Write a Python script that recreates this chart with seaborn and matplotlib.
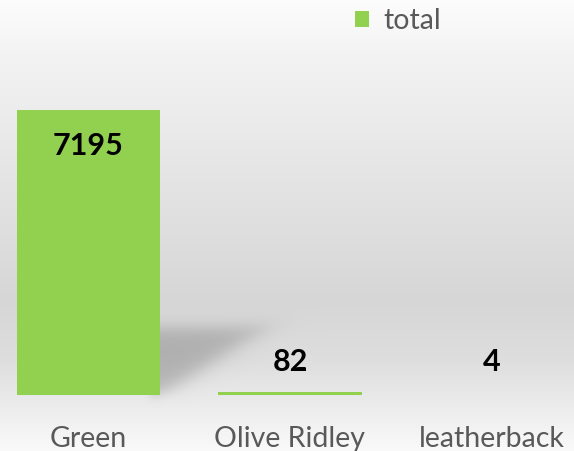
import numpy as np
import pandas as pd
import seaborn as sns
import matplotlib
matplotlib.use("Agg")
import matplotlib.pyplot as plt
from matplotlib.patches import Patch

species = ["Green", "Olive Ridley", "leatherback"]
totals = [7195, 82, 4]
series_name = "total"

bar_green = "#92d050"
text_grey = "#595959"

sns.set_theme(style="white")
plt.rcParams["font.family"] = ["Lato", "DejaVu Sans"]

df = pd.DataFrame({"species": species, "total": totals})

W, H = 574, 451
fig = plt.figure(figsize=(W / 100, H / 100), dpi=100)

# background: vertical grey gradient + soft perspective shadow behind the big bar
bg = fig.add_axes([0, 0, 1, 1])
yy = np.arange(H)
stops_y = [0, 60, 300, 360, 451]
stops_v = [0.99, 0.95, 0.84, 0.87, 0.98]
shade = np.interp(yy, stops_y, stops_v)
img = np.repeat(shade[:, None], W, axis=1)
rgb = np.dstack([img, img, img])

X, Y = np.meshgrid(np.arange(W), np.arange(H))
x_r = 160 + (395 - Y) / 68 * 105
sig = lambda t: 1 / (1 + np.exp(-t))
alpha = sig((Y - 327) / 5) * sig((396 - Y) / 4) * sig((x_r - X) / 10) * sig((X - 150) / 2)
alpha *= 0.42
rgb = rgb * (1 - alpha[..., None]) + 0.45 * alpha[..., None]
bg.imshow(np.clip(rgb, 0, 1), extent=[0, W, H, 0], aspect="auto", interpolation="bilinear")
bg.set_xlim(0, W)
bg.set_ylim(H, 0)
bg.axis("off")

ax = fig.add_axes([0, 0, 1, 1])
ax.patch.set_alpha(0)
sns.barplot(data=df, x="species", y="total", color=bar_green, width=0.71,
            saturation=1, linewidth=0, ax=ax)

# map data so bars land where they are in the original
px = 201.5
xmin = -88.5 / px
ax.set_xlim(xmin, xmin + W / px)
scale = 7195 / 285
ymin = -56 * scale
ax.set_ylim(ymin, ymin + H * scale)
ax.axis("off")

for i, v in enumerate(totals):
    if i == 0:
        ax.annotate(f"{v}", (i, v), xytext=(0, -36 * 0.72), textcoords="offset points",
                    ha="center", va="center", fontsize=22, fontweight="bold", color="black")
    else:
        ax.annotate(f"{v}", (i, 0), xytext=(0, 33 * 0.72), textcoords="offset points",
                    ha="center", va="center", fontsize=22, fontweight="bold", color="black")

for i, name in enumerate(species):
    ax.text(i, 12 / H, name, transform=ax.get_xaxis_transform(),
            ha="center", va="center", fontsize=20.5, color=text_grey)

handle = Patch(facecolor=bar_green, edgecolor="none")
fig.legend([handle], [series_name], loc="center left", bbox_to_anchor=(341 / W, 1 - 21 / H),
           frameon=False, fontsize=20.5, handlelength=0.48, handleheight=0.48,
           handletextpad=0.5, labelcolor=text_grey, borderpad=0)

fig.savefig("out.png", dpi=100)
